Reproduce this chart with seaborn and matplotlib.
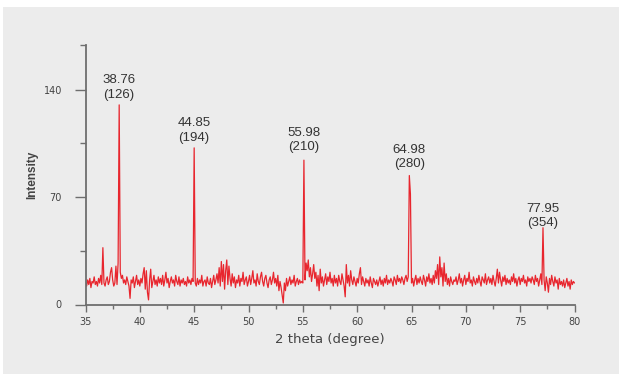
import numpy as np
import pandas as pd
import matplotlib
matplotlib.use("Agg")
import matplotlib.pyplot as plt
from matplotlib.patches import Rectangle
import seaborn as sns

# ---- data ----
two_theta_start = 35.0
two_theta_step = 0.1
intensity = [
    14, 12, 16, 13, 17, 11, 15, 14, 18, 13,   # 35
    15, 12, 17, 14, 19, 13, 37, 14, 12, 16,   # 36
    18, 13, 15, 21, 24, 16, 12, 14, 25, 13,   # 37
    27, 130, 21, 17, 19, 14, 16, 13, 18, 15,  # 38
    12, 4, 16, 14, 18, 11, 15, 19, 13, 16,    # 39
    12, 17, 14, 20, 24, 10, 22, 8, 3, 16,     # 40
    23, 11, 15, 19, 13, 16, 12, 18, 14, 17,   # 41
    13, 19, 12, 16, 21, 14, 17, 11, 15, 18,   # 42
    14, 16, 12, 19, 15, 13, 18, 12, 16, 14,   # 43
    17, 13, 15, 12, 18, 14, 16, 13, 17, 15,   # 44
    102, 14, 12, 17, 13, 16, 14, 19, 12, 15,  # 45
    16, 12, 18, 14, 13, 17, 11, 15, 19, 13,   # 46
    16, 20, 14, 24, 12, 28, 15, 26, 10, 22,   # 47
    29, 13, 25, 17, 12, 20, 14, 18, 11, 16,   # 48
    14, 19, 12, 17, 15, 21, 13, 16, 18, 12,   # 49
    15, 19, 13, 17, 22, 14, 16, 12, 20, 15,   # 50
    13, 18, 21, 15, 12, 17, 19, 14, 11, 16,   # 51
    18, 13, 16, 21, 14, 17, 12, 19, 9, 15,    # 52
    11, 6, 1, 14, 9, 17, 12, 15, 18, 13,      # 53
    16, 14, 19, 12, 15, 17, 13, 16, 14, 15,   # 54
    14, 94, 16, 27, 22, 29, 18, 24, 15, 20,   # 55
    26, 17, 21, 12, 19, 9, 23, 14, 18, 12,    # 56
    16, 20, 13, 18, 15, 21, 14, 17, 12, 19,   # 57
    14, 17, 12, 19, 15, 13, 20, 16, 12, 5,    # 58
    26, 14, 19, 12, 22, 16, 13, 18, 15, 12,   # 59
    17, 14, 20, 24, 13, 18, 15, 12, 17, 14,   # 60
    16, 12, 18, 14, 11, 17, 15, 13, 16, 12,   # 61
    15, 18, 13, 16, 12, 17, 14, 19, 13, 16,   # 62
    14, 17, 15, 12, 18, 16, 13, 19, 15, 17,   # 63
    14, 18, 16, 13, 17, 19, 15, 18, 84, 72,   # 64
    14, 17, 12, 16, 19, 13, 17, 14, 18, 15,   # 65
    13, 19, 16, 12, 18, 15, 20, 14, 17, 13,   # 66
    19, 14, 22, 17, 26, 13, 31, 18, 24, 12,   # 67
    27, 15, 20, 13, 17, 12, 18, 15, 13, 16,   # 68
    15, 18, 13, 16, 20, 14, 17, 12, 16, 19,   # 69
    13, 17, 15, 21, 14, 16, 12, 18, 15, 13,   # 70
    17, 14, 19, 15, 12, 18, 16, 14, 20, 13,   # 71
    16, 18, 14, 17, 13, 19, 15, 12, 17, 23,   # 72
    14, 21, 16, 12, 18, 15, 19, 13, 17, 14,   # 73
    16, 13, 18, 15, 20, 14, 17, 12, 16, 18,   # 74
    13, 17, 15, 19, 14, 16, 12, 18, 15, 17,   # 75
    14, 18, 16, 13, 19, 15, 17, 12, 16, 20,   # 76
    13, 50, 16, 9, 18, 14, 8, 17, 13, 19,     # 77
    15, 12, 18, 14, 16, 10, 17, 13, 15, 12,   # 78
    16, 11, 14, 17, 12, 15, 10, 16, 13, 15,   # 79
    14,                                       # 80
]
two_theta = [round(two_theta_start + i * two_theta_step, 2) for i in range(len(intensity))]

peak_positions = [38.1, 45.0, 55.1, 64.8, 77.1]
peak_heights = [130, 102, 94, 84, 50]
peak_angle_labels = ["38.76", "44.85", "55.98", "64.98", "77.95"]
peak_hkl_labels = ["(126)", "(194)", "(210)", "(280)", "(354)"]

x_ticks = [35, 40, 45, 50, 55, 60, 65, 70, 75, 80]
y_ticks = [0, 70, 140]

# ---- style ----
sns.set_theme(style="white")
plt.rcParams["font.family"] = ["Liberation Sans", "DejaVu Sans"]

fig = plt.figure(figsize=(6.19, 3.74), dpi=100)
fig.patch.set_facecolor("white")
bg = Rectangle((3 / 619, 0), 1, 1 - 7 / 374, transform=fig.transFigure,
               facecolor="#ececec", edgecolor="none", zorder=-10)
fig.add_artist(bg)

ax = fig.add_axes([85.5 / 619, 1 - 304.5 / 374, (574.5 - 85.5) / 619, (304.5 - 45) / 374])
ax.set_zorder(1)
ax.set_facecolor("none")
ax.patch.set_alpha(0)

df = pd.DataFrame({"two_theta": two_theta, "intensity": intensity})
sns.lineplot(data=df, x="two_theta", y="intensity", ax=ax, color="#e8262e",
             linewidth=0.9, estimator=None, sort=False)

label_offsets = [3, 3, 5, 4, -1]
for px, ph, a, h, off in zip(peak_positions, peak_heights, peak_angle_labels,
                             peak_hkl_labels, label_offsets):
    ax.annotate(f"{a}\n{h}", xy=(px, ph), xytext=(0, off), textcoords="offset points",
                ha="center", va="bottom", fontsize=9.5, color="#333333", linespacing=1.25)

ax.set_xlim(35, 80)
ax.set_ylim(0, 169)
ax.set_xticks(x_ticks)
ax.set_xticklabels([str(t) for t in x_ticks], family="DejaVu Sans")
ax.set_yticks(y_ticks)
ax.set_yticklabels([str(t) for t in y_ticks], family="DejaVu Sans")
ax.set_xticks([37.5 + 5 * i for i in range(9)], minor=True)
ax.set_yticks([35, 105, 169], minor=True)

for side in ["top", "right"]:
    ax.spines[side].set_visible(False)
for side in ["left", "bottom"]:
    ax.spines[side].set_color("#6e6e6e")
    ax.spines[side].set_linewidth(1.3)

ax.tick_params(axis="x", which="major", direction="out", length=5, width=1, color="#6e6e6e",
               labelsize=7, labelcolor="#444444", pad=4, bottom=True)
ax.tick_params(axis="x", which="minor", direction="out", length=3, width=1, color="#6e6e6e",
               bottom=True)
ax.tick_params(axis="y", which="major", direction="out", length=8, width=1, color="#6e6e6e",
               labelsize=7, labelcolor="#444444", pad=9, left=True)
ax.tick_params(axis="y", which="minor", direction="out", length=4, width=1, color="#6e6e6e",
               left=True)

ax.set_xlabel("2 theta (degree)", fontsize=9.5, family="DejaVu Sans", color="#444444", labelpad=4)
ax.set_ylabel("Intensity", fontsize=8.5, fontweight="bold", color="#444444", labelpad=4)

fig.savefig("out.png", dpi=100, facecolor=fig.get_facecolor())
